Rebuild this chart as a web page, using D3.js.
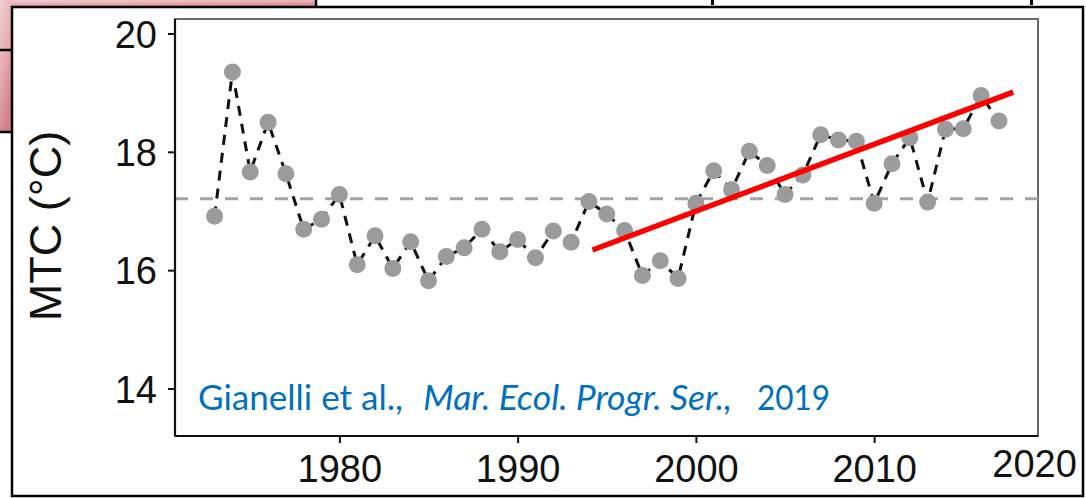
<!DOCTYPE html>
<html><head><meta charset="utf-8">
<script src="https://cdn.jsdelivr.net/npm/d3@7"></script>
<style>html,body{margin:0;padding:0;background:#fff;overflow:hidden}</style>
</head><body>
<svg id="c" width="1086" height="498"></svg>
<script>
const years = [1973,1974,1975,1976,1977,1978,1979,1980,1981,1982,1983,1984,1985,1986,1987,1988,1989,1990,1991,1992,1993,1994,1995,1996,1997,1998,1999,2000,2001,2002,2003,2004,2005,2006,2007,2008,2009,2010,2011,2012,2013,2014,2015,2016,2017];
const mtc = [16.91,19.35,17.66,18.50,17.63,16.69,16.86,17.28,16.09,16.58,16.03,16.48,15.82,16.23,16.38,16.69,16.31,16.52,16.21,16.66,16.47,17.16,16.95,16.67,15.91,16.16,15.86,17.13,17.68,17.36,18.01,17.77,17.28,17.61,18.29,18.20,18.18,17.13,17.80,18.24,17.15,18.38,18.39,18.95,18.52];
const meanMTC = 17.205;
const trendYears = [1994.2, 2017.8];
const trendValues = [16.34, 19.01];
const xTicks = [1980, 1990, 2000, 2010];
const yTicks = [14, 16, 18, 20];
const extraXLabel = "2020";
const yTitle = "MTC (°C)";
const citeAuthors = "Gianelli et al.,";
const citeJournal = "Mar. Ecol. Progr. Ser.,";
const citeYear = "2019";

const svg = d3.select("#c");
const L = 175, R = 1038, T = 19, B = 436;
const x = d3.scaleLinear().domain([1970.78, 2019.19]).range([L, R]);
const y = d3.scaleLinear().domain([13.197, 20.245]).range([B, T]);

// slide background remnants
const defs = svg.append("defs");
const g1 = defs.append("linearGradient").attr("id","pink").attr("x1","0").attr("y1","0").attr("x2","0.4").attr("y2","1");
g1.append("stop").attr("offset","0").attr("stop-color","#f1d0d3");
g1.append("stop").attr("offset","0.5").attr("stop-color","#e6aeb3");
g1.append("stop").attr("offset","1").attr("stop-color","#d27f88");
svg.append("rect").attr("x",0).attr("y",0).attr("width",316).attr("height",8).attr("fill","url(#pink)");
svg.append("rect").attr("x",0).attr("y",0).attr("width",12).attr("height",132).attr("fill","url(#pink)");
svg.append("line").attr("x1",0).attr("x2",12).attr("y1",50).attr("y2",50).attr("stroke","#000").attr("stroke-width",2.5);
svg.append("line").attr("x1",0).attr("x2",12).attr("y1",132).attr("y2",132).attr("stroke","#000").attr("stroke-width",2.5);
svg.append("line").attr("x1",316).attr("x2",316).attr("y1",0).attr("y2",8).attr("stroke","#000").attr("stroke-width",2.5);
svg.append("rect").attr("x",711).attr("y",0).attr("width",3).attr("height",5).attr("fill","#000");
svg.append("rect").attr("x",1030).attr("y",0).attr("width",3).attr("height",5).attr("fill","#000");

// outer frame
svg.append("rect").attr("x",12).attr("y",7).attr("width",1071).attr("height",489)
  .attr("fill","#fff").attr("stroke","#000").attr("stroke-width",2.5);

// panel border
svg.append("rect").attr("x",L).attr("y",T).attr("width",R-L).attr("height",B-T)
  .attr("fill","#fff").attr("stroke","#6a6a6a").attr("stroke-width",2);

// mean dashed line
svg.append("line").attr("x1",L).attr("x2",R).attr("y1",y(meanMTC)).attr("y2",y(meanMTC))
  .attr("stroke","#a3a3a3").attr("stroke-width",3).attr("stroke-dasharray","13,12");

// connecting dashed line
const data = years.map((yr,i)=>({yr, v:mtc[i]}));
svg.append("path").datum(data)
  .attr("d", d3.line().x(d=>x(d.yr)).y(d=>y(d.v)))
  .attr("fill","none").attr("stroke","#111").attr("stroke-width",3)
  .attr("stroke-dasharray","10,8");

// points
svg.append("g").selectAll("circle").data(data).join("circle")
  .attr("cx",d=>x(d.yr)).attr("cy",d=>y(d.v)).attr("r",8.5).attr("fill","#9b9b9b");

// trend line
svg.append("line")
  .attr("x1",x(trendYears[0])).attr("y1",y(trendValues[0]))
  .attr("x2",x(trendYears[1])).attr("y2",y(trendValues[1]))
  .attr("stroke","#ff0000").attr("stroke-width",5.5);

// axes
const font = "'Liberation Sans', Arial, sans-serif";
const xAxis = svg.append("g").attr("transform",`translate(0,${B})`)
  .call(d3.axisBottom(x).tickValues(xTicks).tickFormat(d3.format("d")).tickSize(7).tickPadding(12));
const yAxis = svg.append("g").attr("transform",`translate(${L},0)`)
  .call(d3.axisLeft(y).tickValues(yTicks).tickFormat(d3.format("d")).tickSize(7).tickPadding(10));
[xAxis,yAxis].forEach(a=>{
  a.select(".domain").attr("stroke","#111").attr("stroke-width",2.2);
  a.selectAll(".tick line").attr("stroke","#111").attr("stroke-width",2);
  a.selectAll("text").attr("font-family",font).attr("font-size",38).attr("fill","#111");
});
yAxis.select(".domain").attr("d",`M0,${T}V${B}`);
xAxis.select(".domain").attr("d",`M${L},0H${R}`);
xAxis.selectAll("text").attr("dy",null).attr("y",46);
yAxis.selectAll("text").attr("dy","0.36em").attr("x",-18);

svg.append("text").attr("x",x(2019)).attr("y",477).attr("text-anchor","middle")
  .attr("font-family",font).attr("font-size",38).attr("fill","#111").text(extraXLabel);

svg.append("text").attr("transform","translate(61,226) rotate(-90)").attr("text-anchor","middle")
  .attr("font-family",font).attr("font-size",45).attr("fill","#111").text(yTitle);

// citation
const cf = "Lato, 'Open Sans', sans-serif";
svg.append("text").attr("x",198).attr("y",410).attr("font-family",cf).attr("font-size",35)
  .attr("fill","#0070c0").attr("textLength",205).attr("lengthAdjust","spacingAndGlyphs").text(citeAuthors);
svg.append("text").attr("x",423).attr("y",410).attr("font-family",cf).attr("font-size",35).attr("font-style","italic")
  .attr("fill","#0070c0").attr("textLength",309).attr("lengthAdjust","spacingAndGlyphs").text(citeJournal);
svg.append("text").attr("x",757).attr("y",410).attr("font-family",cf).attr("font-size",35)
  .attr("fill","#0070c0").attr("textLength",73).attr("lengthAdjust","spacingAndGlyphs").text(citeYear);
</script>
</body></html>
